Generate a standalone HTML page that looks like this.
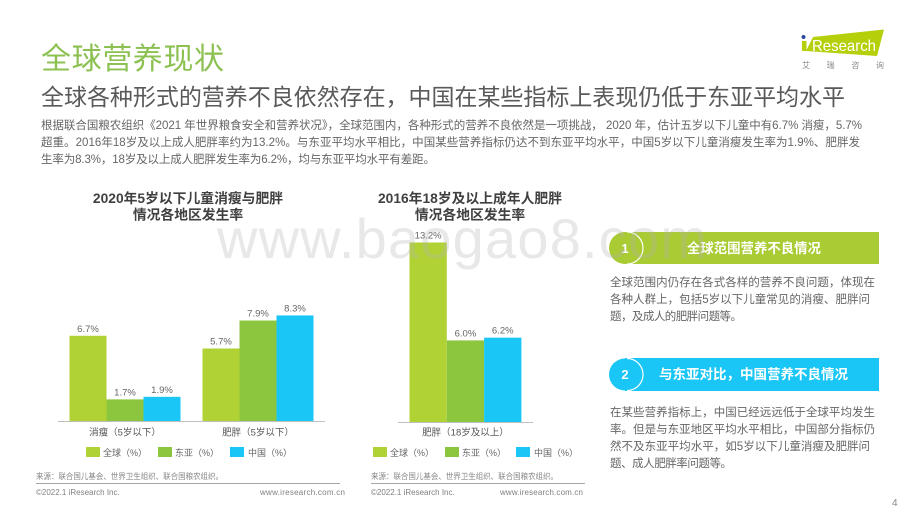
<!DOCTYPE html>
<html lang="zh">
<head>
<meta charset="utf-8">
<title>全球营养现状</title>
<style>
html,body{margin:0;padding:0;background:#fff;width:920px;height:518px;overflow:hidden}
svg{display:block}
text{font-family:"Liberation Sans","Noto Sans CJK SC",sans-serif}
.body{font-size:11.5px;fill:#666}
.bt{font-size:13.8px;font-weight:700;fill:#404040;text-anchor:middle}
.src{font-size:8px;fill:#888}
.foot{font-size:8px;fill:#808080}
.val{font-size:9.5px;fill:#666;text-anchor:middle}
.cat{font-size:9.5px;fill:#555;text-anchor:middle}
.leg{font-size:9px;fill:#666}
</style>
</head>
<body>
<svg id="page" width="920" height="518" viewBox="0 0 920 518" xmlns="http://www.w3.org/2000/svg">
  <rect width="920" height="518" fill="#fff"/>

  <text x="41" y="69" font-size="30" fill="#8cc152" textLength="183" lengthAdjust="spacing">全球营养现状</text>
  <text x="41" y="105" font-size="23" fill="#595959" textLength="804" lengthAdjust="spacing">全球各种形式的营养不良依然存在，中国在某些指标上表现仍低于东亚平均水平</text>

  <g class="body">
    <text x="41" y="129" textLength="821" lengthAdjust="spacing">根据联合国粮农组织《2021 年世界粮食安全和营养状况》，全球范围内，各种形式的营养不良依然是一项挑战， 2020 年，估计五岁以下儿童中有6.7% 消瘦，5.7%</text>
    <text x="41" y="146" textLength="819" lengthAdjust="spacing">超重。2016年18岁及以上成人肥胖率约为13.2%。与东亚平均水平相比，中国某些营养指标仍达不到东亚平均水平，中国5岁以下儿童消瘦发生率为1.9%、肥胖发</text>
    <text x="41" y="163" textLength="394" lengthAdjust="spacing">生率为8.3%，18岁及以上成人肥胖发生率为6.2%，均与东亚平均水平有差距。</text>
  </g>

  <g>
    <polygon points="813,37 884,29.5 877,56 806,51" fill="#b5cf0a"/>
    <circle cx="803.5" cy="37" r="2" fill="#2f4a9c"/>
    <rect x="802" y="41" width="4.5" height="10" fill="#b5cf0a"/>
    <text x="812" y="51" font-size="16" fill="#fff" textLength="64" lengthAdjust="spacingAndGlyphs">Research</text>
    <text x="802" y="68" font-size="8" fill="#8a8a8a" textLength="82" lengthAdjust="spacing">艾瑞咨询</text>
  </g>

  <text class="bt" x="188" y="203">2020年5岁以下儿童消瘦与肥胖</text>
  <text class="bt" x="188" y="219.5">情况各地区发生率</text>
  <text class="bt" x="470" y="203">2016年18岁及以上成年人肥胖</text>
  <text class="bt" x="470" y="219.5">情况各地区发生率</text>

  <g id="chart1"></g>
  <g id="chart2"></g>
  <line x1="58" x2="325" y1="421.5" y2="421.5" stroke="#bfbfbf" stroke-width="1"/>
  <line x1="398" x2="533" y1="422.5" y2="422.5" stroke="#bfbfbf" stroke-width="1"/>

  <g>
    <g><rect x="86" y="447" width="14" height="10" fill="#b1d235"/><text class="leg" x="103" y="456">全球（%）</text></g>
    <g><rect x="158" y="447" width="14" height="10" fill="#8cc63f"/><text class="leg" x="175" y="456">东亚（%）</text></g>
    <g><rect x="230" y="447" width="14" height="10" fill="#1ac6f5"/><text class="leg" x="248" y="456">中国（%）</text></g>
  </g>
  <g>
    <g><rect x="373" y="447" width="14" height="10" fill="#b1d235"/><text class="leg" x="390" y="456">全球（%）</text></g>
    <g><rect x="445" y="447" width="14" height="10" fill="#8cc63f"/><text class="leg" x="462" y="456">东亚（%）</text></g>
    <g><rect x="516" y="447" width="14" height="10" fill="#1ac6f5"/><text class="leg" x="534" y="456">中国（%）</text></g>
  </g>

  <text class="src" x="36" y="479" textLength="187" lengthAdjust="spacingAndGlyphs">来源：联合国儿基会、世界卫生组织、联合国粮农组织。</text>
  <text class="src" x="371" y="479" textLength="187" lengthAdjust="spacingAndGlyphs">来源：联合国儿基会、世界卫生组织、联合国粮农组织。</text>
  <line x1="36" x2="340" y1="483.5" y2="483.5" stroke="#a6a6a6"/>
  <line x1="371" x2="585" y1="483.5" y2="483.5" stroke="#a6a6a6"/>
  <text class="foot" x="36" y="495">©2022.1 iResearch Inc.</text>
  <text class="foot" x="260" y="495" textLength="85" lengthAdjust="spacing">www.iresearch.com.cn</text>
  <text class="foot" x="371" y="495">©2022.1 iResearch Inc.</text>
  <text class="foot" x="500" y="495" textLength="83" lengthAdjust="spacing">www.iresearch.com.cn</text>
  <text x="892" y="506" font-size="10" fill="#8a8a8a">4</text>

  <g>
    <rect x="625" y="232" width="254" height="32" fill="#a9cb33"/>
    <circle cx="625" cy="248" r="16" fill="#a9cb33"/>
    <path d="M627 232 A16 16 0 0 1 627 264" fill="none" stroke="#fff" stroke-width="1.2"/>
    <text x="625" y="253" font-size="13" font-weight="700" fill="#fff" text-anchor="middle">1</text>
    <text x="687" y="253" font-size="13.4" font-weight="700" fill="#fff">全球范围营养不良情况</text>
  </g>
  <g class="body">
    <text x="610" y="286" textLength="265" lengthAdjust="spacing">全球范围内仍存在各式各样的营养不良问题，体现在</text>
    <text x="610" y="303" textLength="260" lengthAdjust="spacing">各种人群上，包括5岁以下儿童常见的消瘦、肥胖问</text>
    <text x="610" y="320" textLength="132" lengthAdjust="spacing">题，及成人的肥胖问题等。</text>
  </g>

  <g>
    <rect x="625" y="358" width="254" height="33" fill="#1ac6f5"/>
    <circle cx="625" cy="374.5" r="16" fill="#1ac6f5"/>
    <path d="M627 358.5 A16 16 0 0 1 627 390.5" fill="none" stroke="#fff" stroke-width="1.2"/>
    <text x="625" y="379" font-size="13" font-weight="700" fill="#fff" text-anchor="middle">2</text>
    <text x="659" y="379" font-size="13.5" font-weight="700" fill="#fff">与东亚对比，中国营养不良情况</text>
  </g>
  <g class="body">
    <text x="610" y="416" textLength="265" lengthAdjust="spacing">在某些营养指标上，中国已经远远低于全球平均发生</text>
    <text x="610" y="433" textLength="265" lengthAdjust="spacing">率。但是与东亚地区平均水平相比，中国部分指标仍</text>
    <text x="610" y="450" textLength="260" lengthAdjust="spacing">然不及东亚平均水平，如5岁以下儿童消瘦及肥胖问</text>
    <text x="610" y="467" textLength="122" lengthAdjust="spacing">题、成人肥胖率问题等。</text>
  </g>

  <text x="217" y="258" font-size="56" fill="#b4b4b4" fill-opacity="0.3" textLength="490" lengthAdjust="spacing">www.baogao8.com</text>
</svg>

<script>
const seriesColors = ['#b1d235', '#8cc63f', '#1ac6f5'];
const chart1Categories = ['消瘦（5岁以下）', '肥胖（5岁以下）'];
const chart1Global = [6.7, 5.7];
const chart1EastAsia = [1.7, 7.9];
const chart1China = [1.9, 8.3];
const chart2Categories = ['肥胖（18岁及以上）'];
const chart2Global = [13.2];
const chart2EastAsia = [6.0];
const chart2China = [6.2];

const SVG_NS = 'http://www.w3.org/2000/svg';

function drawBars(root, prefix, categories, series, xStart, yScale, baseline, barW, groupStep) {
  categories.forEach(function (cat, c) {
    const groupX = xStart + c * groupStep;
    series.forEach(function (values, s) {
      const v = values[c];
      const x = groupX + s * barW;
      const y = yScale(v);

      const bar = document.createElementNS(SVG_NS, 'rect');
      
      
      bar.setAttribute('x', x);
      bar.setAttribute('y', y);
      bar.setAttribute('width', barW);
      bar.setAttribute('height', baseline - y);
      bar.setAttribute('fill', seriesColors[s]);
      root.appendChild(bar);

      const label = document.createElementNS(SVG_NS, 'text');
      
      
      label.setAttribute('class', 'val');
      label.setAttribute('x', x + barW / 2);
      label.setAttribute('y', y - 4);
      label.textContent = v.toFixed(1) + '%';
      root.appendChild(label);
    });

    const catLabel = document.createElementNS(SVG_NS, 'text');
    
    
    catLabel.setAttribute('class', 'cat');
    catLabel.setAttribute('x', groupX + barW * series.length / 2);
    catLabel.setAttribute('y', 435.5);
    catLabel.textContent = cat;
    root.appendChild(catLabel);
  });
}

function yScale1(v) { return 421 - v * 12.72; }
function yScale2(v) { return 422 - v * 13.6; }

drawBars(document.getElementById('chart1'), 'chart1', chart1Categories,
  [chart1Global, chart1EastAsia, chart1China], 69.5, yScale1, 421, 37, 133);
drawBars(document.getElementById('chart2'), 'chart2', chart2Categories,
  [chart2Global, chart2EastAsia, chart2China], 409.5, yScale2, 422, 37.3, 0);
</script>
</body>
</html>
